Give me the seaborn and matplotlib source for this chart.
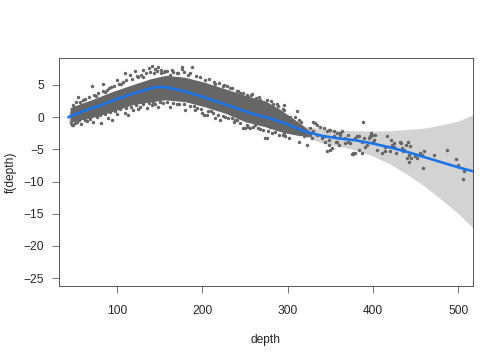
import numpy as np
import pandas as pd
import seaborn as sns
import matplotlib
matplotlib.use("Agg")
import matplotlib.pyplot as plt

# smooth term f(depth)
fit_depth = [43, 60, 80, 100, 120, 140, 150, 160, 180, 200, 220, 240, 260, 280,
             300, 320, 340, 360, 380, 400, 420, 440, 460, 480, 500, 517]
fit_value = [0.0, 0.9, 1.8, 2.8, 3.7, 4.5, 4.7, 4.6, 4.0, 3.2, 2.3, 1.4, 0.5, -0.2,
             -1.1, -2.2, -2.9, -3.3, -3.6, -4.1, -4.7, -5.4, -6.2, -7.0, -7.8, -8.4]
fit_se = [0.9, 0.5, 0.35, 0.3, 0.3, 0.3, 0.3, 0.3, 0.3, 0.3, 0.3, 0.3, 0.3, 0.3,
          0.45, 0.8, 1.1, 1.25, 1.5, 1.95, 2.6, 3.5, 4.5, 5.8, 7.2, 8.8]

# dense core of the partial residual cloud (upper / lower edge)
core_depth = [45, 55, 70, 95, 117, 140, 157, 180, 203, 227, 250, 274, 290, 303, 315, 326]
core_upper = [1.5, 2.0, 2.7, 4.0, 5.0, 6.0, 6.5, 6.2, 5.4, 4.4, 3.4, 2.5, 1.3, 0.1, -1.0, -2.2]
core_lower = [-0.8, -0.5, -0.1, 0.9, 1.9, 2.4, 2.7, 2.4, 1.6, 0.6, -0.7, -1.5, -2.2, -2.6, -2.9, -2.5]

# individual residual points around and outside the core
pt_depth = [
    54.7, 70.3, 84, 93, 99.5, 109, 115, 121, 125, 131, 137, 140.5, 144.5, 148.4, 152, 156,
    164, 176, 188, 162, 176, 195.5, 199.5, 205, 211, 240.5, 244, 248, 254, 262, 268, 271.7, 273.6,
    60, 75, 88, 105, 130, 170, 185, 215, 225, 232, 258, 280, 287,
    81, 49, 51, 90, 94, 109, 113, 119, 127, 135, 140.5, 148.4, 162.4, 180, 191.7, 201.4, 215,
    221, 226.8, 234.7, 250.2, 256, 273.6, 279.5, 199.5, 205, 236.6, 248, 254, 275.6, 47,
    58, 65, 72, 100, 125, 145, 170, 190, 210, 240, 262, 268, 285,
    48, 52, 57, 63, 67, 73, 78, 83, 86, 91, 97, 102, 107, 111, 118, 123, 128, 134, 139, 143,
    147, 151, 155, 159, 166, 172, 179, 183, 192, 197, 203, 208, 214, 219, 224, 229, 235, 242,
    247, 252, 257, 263, 266, 276, 283, 289, 294,
    46, 53, 56, 62, 68, 76, 80, 86, 92, 98, 104, 111, 116, 122, 131, 137, 142, 150, 154, 158,
    166, 173, 178, 185, 194, 198, 207, 212, 218, 224, 230, 238, 244, 252, 259, 265, 271, 277,
    282, 290, 296,
    283.4, 287.3, 291.2, 289.2, 293.2, 285.4, 297, 301, 305, 308.8, 312.6, 316.6, 320.5, 322.5,
    303, 295, 326.4, 330, 334, 328, 342, 348, 353.6, 357.6, 367, 371, 379, 383, 394.6, 398.6,
    296, 296, 311, 309, 313, 315, 307, 317, 303, 299, 297, 301, 313, 322.5, 318.5, 326,
    330, 332, 334, 338, 342, 346, 350, 354, 358, 361.5, 363.5, 340, 344, 348, 352, 346, 350,
    356, 359.5, 373, 377, 381, 387, 389, 393, 396.6, 400.5, 402.5, 388, 383, 391, 367, 371,
    348, 361.5, 375, 387, 379, 376, 397, 416, 398, 400, 405, 410, 414, 414, 420, 421, 422,
    424, 425, 427, 432, 433, 434, 436, 435, 438.7, 439.6, 440.3, 441.5, 442.6, 443.4, 444.2,
    449, 451, 455, 457, 460, 458, 471.5, 486.4, 497, 500, 506, 505,
]
pt_resid = [
    3.2, 4.9, 5.2, 4.75, 5.8, 6.8, 6.6, 7.1, 6.3, 7.3, 7.6, 7.9, 7.45, 7.8, 7.3, 7.1,
    7.3, 7.85, 7.8, 6.6, 7.5, 5.3, 4.75, 5.0, 4.5, 4.0, 3.7, 2.95, 3.2, 2.7, 2.7, 2.2, 1.65,
    2.6, 3.3, 4.3, 5.2, 6.3, 6.9, 6.8, 5.2, 5.0, 4.6, 3.6, 2.5, 2.0,
    -0.9, -1.2, -0.9, -0.15, -0.4, 0.6, 0.35, 1.1, 1.65, 1.4, 1.9, 1.65, 1.65, 1.1, 1.1, 0.35, -0.15,
    -0.4, 0.1, -0.15, -1.7, -1.7, -3.3, -1.45, 0.6, 0.35, -0.7, -1.7, -1.45, -3.3, -1.2,
    -1.0, -0.6, -0.7, 0.5, 1.3, 2.0, 2.0, 1.8, 0.9, -0.4, -1.2, -1.9, -2.3,
    1.9, 2.3, 2.4, 2.9, 3.1, 3.4, 3.8, 4.1, 3.9, 4.6, 4.8, 5.1, 5.5, 5.7, 6.0, 6.4, 6.6, 6.8, 7.0, 6.9,
    7.2, 6.9, 7.0, 7.2, 7.0, 6.8, 7.0, 6.6, 6.4, 6.2, 5.8, 5.9, 5.5, 5.3, 4.9, 4.8, 4.5, 4.1,
    3.8, 3.5, 3.4, 3.0, 3.1, 2.6, 2.1, 1.7, 1.2,
    -0.9, -0.8, -0.5, -0.4, -0.3, 0.1, 0.3, 0.5, 0.8, 1.0, 1.2, 1.5, 1.6, 1.9, 2.0, 2.2, 2.3, 2.4, 2.2, 2.3,
    2.2, 2.1, 2.0, 1.8, 1.4, 1.2, 0.9, 0.6, 0.3, 0.2, -0.2, -0.5, -0.9, -1.2, -1.5, -1.7, -2.0, -2.2,
    -2.4, -2.7, -2.4,
    0.35, -0.15, 0.6, -0.93, -1.7, -1.2, -0.4, -0.93, -1.45, -1.97, -2.2, -2.5, -1.97, -2.75,
    0.1, -2.75, -1.7, -2.2, -2.75, -3.3, -3.0, -3.5, -3.0, -3.8, -4.0, -3.8, -3.3, -3.0, -3.3, -2.75,
    1.9, 1.1, 0.9, 0.1, -0.4, -0.8, -1.2, -1.5, -1.7, -2.2, -3.0, -3.3, -3.8, -4.3, -3.0, -2.75,
    -0.7, -0.9, -1.2, -1.45, -1.7, -2.2, -2.0, -2.2, -2.5, -2.75, -2.2, -3.3, -3.8, -4.3, -4.8, -5.3, -5.1,
    -3.8, -4.3, -4.0, -5.6, -3.0, -3.8, -3.3, -4.3, -3.0, -3.5, -2.75, -0.8, -5.1, -4.6, -3.3, -2.75,
    -2.0, -2.4, -5.7, -5.5, -5.6, -5.75, -2.5, -2.9, -3.0, -3.8, -5.1, -5.5, -4.7, -5.3, -5.3, -3.5, -4.3,
    -4.0, -4.6, -5.5, -3.8, -4.0, -4.8, -5.1, -5.3, -4.3, -6.4, -3.8, -5.85, -6.9, -4.55, -6.4,
    -6.1, -6.4, -5.6, -5.85, -5.3, -7.9, -5.85, -5.1, -6.5, -7.4, -8.3, -9.6,
]

fit = pd.DataFrame({"depth": fit_depth, "f": fit_value, "se": fit_se})
pts = pd.DataFrame({"depth": pt_depth, "resid": pt_resid})

sns.set_theme(style="ticks")
plt.rcParams["font.family"] = ["Liberation Sans", "DejaVu Sans"]
plt.rcParams["xtick.direction"] = "out"
plt.rcParams["ytick.direction"] = "out"

fig = plt.figure(figsize=(7, 5), dpi=72)
ax = fig.add_axes([0.117, 0.206, 0.8215, 0.633])

point_col = "#666666"

# confidence band
ax.fill_between(fit["depth"], fit["f"] - fit["se"], fit["f"] + fit["se"],
                color="#d3d3d3", lw=0, zorder=1)
# dense residual core
ax.fill_between(core_depth, core_lower, core_upper, color=point_col, lw=0, zorder=2)
sns.scatterplot(data=pts, x="depth", y="resid", color=point_col, s=12,
                linewidth=0, ax=ax, zorder=3)
sns.lineplot(data=fit, x="depth", y="f", color="#1a73e8", lw=2.6, ax=ax, zorder=4)

ax.set_xlim(32, 517)
ax.set_ylim(-26.2, 9.2)
ax.set_xticks([100, 200, 300, 400, 500])
ax.set_yticks([5, 0, -5, -10, -15, -20, -25])
ax.set_xlabel("depth", fontsize=12, labelpad=17)
ax.set_ylabel("f(depth)", fontsize=12, labelpad=7)
ax.tick_params(axis="both", which="major", labelsize=12, length=7, width=0.8,
               color="#555555")
ax.tick_params(axis="x", pad=12)
ax.tick_params(axis="y", pad=8)
for sp in ax.spines.values():
    sp.set_visible(True)
    sp.set_linewidth(0.8)
    sp.set_color("#333333")

fig.savefig("out.png", dpi=72)
